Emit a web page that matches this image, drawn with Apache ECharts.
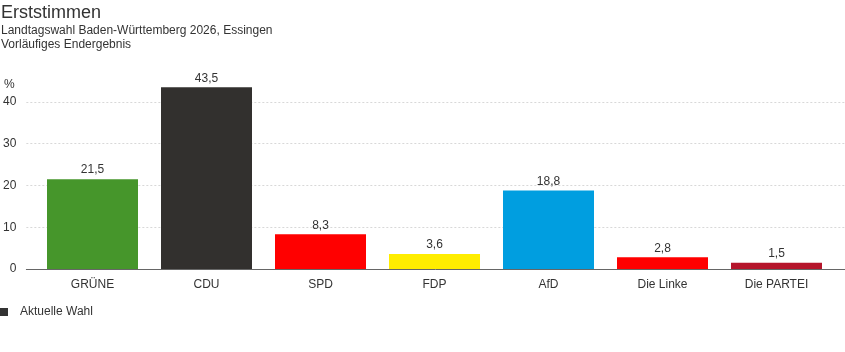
<!DOCTYPE html>
<html>
<head>
<meta charset="utf-8">
<script src="https://cdn.jsdelivr.net/npm/echarts@6/dist/echarts.min.js"></script>
<style>
  html, body { margin: 0; padding: 0; background: #fff; }
  #chart { width: 845px; height: 352px; }
</style>
</head>
<body>
<div id="chart"></div>
<script>
// Parteien und Erststimmen (%)
var parteien = ['GRÜNE', 'CDU', 'SPD', 'FDP', 'AfD', 'Die Linke', 'Die PARTEI'];
var werte = [21.5, 43.5, 8.3, 3.6, 18.8, 2.8, 1.5];
var farben = ['#46962b', '#32302e', '#ff0000', '#ffed00', '#009ee0', '#ff0000', '#b5152b'];
var yTicks = [0, 10, 20, 30, 40];

var font = 'Arial, "Liberation Sans", sans-serif';

var chart = echarts.init(document.getElementById('chart'));

chart.setOption({
  animation: false,
  textStyle: { fontFamily: font },
  title: {
    text: 'Erststimmen',
    subtext: 'Landtagswahl Baden-Württemberg 2026, Essingen\nVorläufiges Endergebnis',
    left: 1,
    top: 3,
    padding: 0,
    itemGap: 1,
    textStyle: { fontSize: 18, fontWeight: 'normal', color: '#333', lineHeight: 20, fontFamily: font },
    subtextStyle: { fontSize: 12, color: '#333', lineHeight: 14, fontFamily: font }
  },
  graphic: [{
    type: 'text',
    left: 4,
    top: 79,
    style: { text: '%', fontSize: 12, fill: '#333', fontFamily: font }
  }],
  legend: {
    left: 0,
    top: 306,
    padding: 0,
    itemWidth: 8,
    itemHeight: 8,
    icon: 'rect',
    textStyle: { fontSize: 12, color: '#333', padding: [0, 0, 0, 7], fontFamily: font },
    data: ['Aktuelle Wahl']
  },
  grid: [
    { left: 24, right: 0, top: 81, bottom: 83 },
    { left: 35.5, right: 11.5, top: 81, bottom: 83 }
  ],
  xAxis: [
    {
      gridIndex: 0,
      type: 'value',
      min: 0,
      max: 1,
      axisLine: { show: true, lineStyle: { color: '#666', width: 1 } },
      axisTick: { show: false },
      axisLabel: { show: false },
      splitLine: { show: false }
    },
    {
      gridIndex: 1,
      type: 'category',
      data: parteien,
      axisLine: { show: false },
      axisTick: { show: false },
      axisLabel: { color: '#333', fontSize: 12, margin: 10, interval: 0 }
    }
  ],
  yAxis: [
    {
      gridIndex: 0,
      type: 'value',
      min: 0,
      max: 45,
      interval: 10,
      axisLine: { show: false },
      axisTick: { show: false },
      axisLabel: {
        color: '#333',
        fontSize: 12,
        margin: 10,
        padding: [0, 0, 5, 0],
        showMaxLabel: false,
        formatter: function (v) { return yTicks.indexOf(v) >= 0 ? String(v) : ''; }
      },
      splitLine: {
        show: true,
        showMinLine: false,
        showMaxLine: false,
        lineStyle: { color: '#d8d8d8', type: [2, 2], width: 1 }
      }
    },
    {
      gridIndex: 1,
      type: 'value',
      min: 0,
      max: 45,
      show: false
    }
  ],
  series: [{
    name: 'Aktuelle Wahl',
    type: 'bar',
    xAxisIndex: 1,
    yAxisIndex: 1,
    barWidth: 91,
    itemStyle: { color: '#333' },
    label: {
      show: true,
      position: 'top',
      distance: 3,
      color: '#333',
      fontSize: 12,
      formatter: function (p) { return String(p.value).replace('.', ','); }
    },
    data: werte.map(function (v, i) {
      return { value: v, itemStyle: { color: farben[i] } };
    })
  }]
});
</script>
</body>
</html>
